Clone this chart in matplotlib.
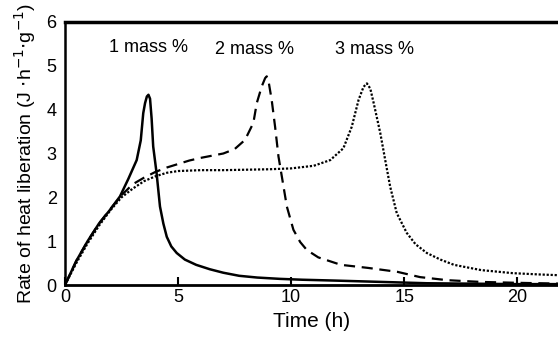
import matplotlib
matplotlib.use("Agg")
import matplotlib.pyplot as plt

plt.rcParams['font.family'] = ['Liberation Sans', 'DejaVu Sans']

# 1 mass %
t1 = [0, 0.5, 1.0, 1.5, 2.0, 2.43, 2.8, 3.17, 3.35, 3.46, 3.54, 3.62, 3.69, 3.76, 3.83, 3.9, 4.05, 4.2, 4.35, 4.5, 4.7, 4.94, 5.3, 5.8, 6.4, 7.0, 7.7, 8.5, 9.5, 10.5, 12.0, 14.0, 16.0, 18.0, 20.0, 22.0]
r1 = [0, 0.55, 1.0, 1.4, 1.72, 2.02, 2.42, 2.85, 3.3, 3.92, 4.15, 4.3, 4.34, 4.25, 3.8, 3.16, 2.55, 1.79, 1.4, 1.1, 0.88, 0.73, 0.58, 0.46, 0.36, 0.28, 0.21, 0.17, 0.14, 0.12, 0.1, 0.07, 0.04, 0.03, 0.02, 0.02]

# 2 mass %
t2 = [0, 0.5, 1.0, 1.5, 2.0, 2.5, 3.0, 3.5, 4.0, 4.5, 5.0, 5.5, 6.0, 6.5, 7.0, 7.5, 7.96, 8.33, 8.48, 8.7, 8.85, 8.92, 9.0, 9.14, 9.29, 9.44, 9.59, 9.81, 10.1, 10.4, 10.69, 11.2, 12.2, 13.4, 14.7, 15.7, 16.9, 18.4, 20.0, 22.0]
r2 = [0, 0.55, 1.0, 1.4, 1.73, 2.05, 2.3, 2.45, 2.58, 2.68, 2.76, 2.84, 2.9, 2.95, 3.0, 3.1, 3.31, 3.7, 4.15, 4.53, 4.72, 4.76, 4.65, 4.22, 3.61, 2.93, 2.47, 1.79, 1.26, 0.98, 0.8, 0.63, 0.46, 0.39, 0.3, 0.18, 0.11, 0.07, 0.05, 0.03]

# 3 mass %
t3 = [0, 0.5, 1.0, 1.5, 2.0, 2.5, 3.0, 3.5, 4.0, 4.5, 5.0, 6.0, 7.0, 8.0, 9.0, 10.0, 11.0, 11.73, 12.31, 12.68, 12.98, 13.2, 13.35, 13.5, 13.65, 13.94, 14.16, 14.38, 14.67, 15.11, 15.5, 16.0, 16.6, 17.2, 18.4, 19.8, 21.0, 22.0]
r3 = [0, 0.5, 0.95, 1.35, 1.7, 2.0, 2.2, 2.37, 2.48, 2.56, 2.6, 2.62, 2.62, 2.63, 2.64, 2.66, 2.72, 2.85, 3.12, 3.61, 4.22, 4.52, 4.6, 4.48, 4.15, 3.47, 2.85, 2.24, 1.64, 1.19, 0.93, 0.73, 0.58, 0.46, 0.34, 0.27, 0.24, 0.22]

labels = ['1 mass %', '2 mass %', '3 mass %']
label_x = [3.7, 8.4, 13.7]
label_y = [5.42, 5.38, 5.38]

xticks = [0, 5, 10, 15, 20]
yticks = [0, 1, 2, 3, 4, 5, 6]

fig = plt.figure(figsize=(5.58, 3.46), dpi=100)
ax = fig.add_axes([65/558, 61/346, 493/558, 263/346])

ax.plot(t1, r1, color='black', lw=1.8, ls='-')
ax.plot(t2, r2, color='black', lw=1.6, ls=(0, (5, 3)))
ax.plot(t3, r3, color='black', lw=1.6, ls=(0, (1, 0.8)))

for lab, x, y in zip(labels, label_x, label_y):
    ax.text(x, y, lab, ha='center', va='center', fontsize=13)

ax.set_xlim(0, 21.8)
ax.set_ylim(0, 6)
ax.set_xticks(xticks)
ax.set_yticks(yticks)
ax.tick_params(axis='x', direction='in', length=6, width=1.5, labelsize=13, pad=3)
ax.tick_params(axis='y', length=0, labelsize=13, pad=6)
ax.spines['right'].set_visible(False)
ax.spines['left'].set_linewidth(1.8)
ax.spines['bottom'].set_linewidth(2)
ax.spines['top'].set_linewidth(2.5)
ax.set_xlabel('Time (h)', fontsize=15, labelpad=4)
ax.set_ylabel('Rate of heat liberation (J $\\cdot$h$^{-1}$$\\cdot$g$^{-1}$)', fontsize=14, labelpad=6)

fig.savefig('out.png', dpi=100)
